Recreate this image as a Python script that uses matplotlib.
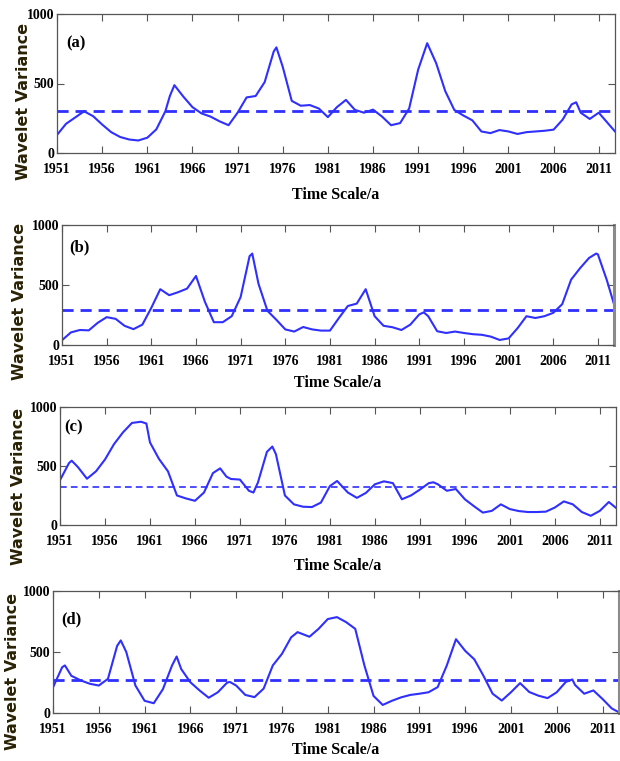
import matplotlib
matplotlib.use('Agg')
import matplotlib.pyplot as plt

# ── data (year, wavelet variance) ──────────────────────────────────────────
YEARS_A = [1951, 1952, 1953, 1954, 1955, 1956, 1957, 1958, 1959, 1960, 1961,
           1962, 1963, 1963.5, 1964, 1965, 1966, 1967, 1968, 1969, 1970, 1971,
           1972, 1973, 1974, 1975, 1975.3, 1976, 1977, 1978, 1979, 1980, 1981,
           1982, 1983, 1984, 1985, 1986, 1987, 1988, 1989, 1990, 1991, 1992,
           1993, 1994, 1995, 1996, 1997, 1998, 1999, 2000, 2001, 2002, 2003,
           2004, 2005, 2006, 2007, 2008, 2008.5, 2009, 2010, 2011, 2012, 2012.8]
VAR_A = [130, 210, 255, 300, 265, 205, 150, 115, 97, 90, 110,
         170, 300, 410, 488, 405, 330, 285, 262, 228, 200, 290,
         400, 410, 510, 730, 760, 620, 375, 340, 345, 320, 258,
         330, 382, 310, 290, 312, 262, 200, 215, 320, 600, 790,
         645, 445, 310, 270, 235, 155, 143, 165, 155, 137, 150,
         155, 160, 168, 240, 350, 365, 290, 245, 290, 215, 155]
MEAN_A = 300

YEARS_B = [1951, 1952, 1953, 1954, 1955, 1956, 1957, 1958, 1959, 1960, 1961,
           1962, 1963, 1964, 1965, 1966, 1967, 1968, 1969, 1970, 1971, 1972,
           1972.3, 1973, 1974, 1975, 1976, 1977, 1978, 1979, 1980, 1981, 1982,
           1983, 1984, 1985, 1986, 1987, 1988, 1989, 1990, 1991, 1991.5, 1992,
           1993, 1994, 1995, 1996, 1997, 1998, 1999, 2000, 2001, 2002, 2003,
           2004, 2005, 2006, 2007, 2008, 2009, 2010, 2010.8, 2011, 2012, 2012.8]
VAR_B = [40, 105, 125, 122, 185, 232, 218, 160, 132, 170, 310,
         465, 415, 440, 470, 575, 360, 190, 190, 240, 400, 740,
         762, 510, 285, 210, 130, 112, 150, 130, 120, 120, 225,
         325, 345, 465, 240, 160, 148, 125, 170, 255, 272, 240,
         115, 100, 112, 100, 90, 85, 70, 42, 55, 140, 240,
         225, 240, 268, 340, 545, 640, 725, 762, 755, 540, 340]
MEAN_B = 295

YEARS_C = [1951, 1952, 1952.3, 1953, 1954, 1955, 1956, 1957, 1958, 1959, 1960,
           1960.6, 1961, 1962, 1963, 1964, 1965, 1966, 1967, 1968, 1968.8,
           1969.5, 1970, 1971, 1972, 1972.5, 1973, 1974, 1974.6, 1975, 1976,
           1977, 1978, 1979, 1980, 1981, 1981.8, 1983, 1984, 1985, 1986, 1987,
           1988, 1989, 1990, 1991, 1992, 1992.5, 1993, 1994, 1995, 1996, 1997,
           1998, 1999, 2000, 2001, 2002, 2003, 2004, 2005, 2006, 2007, 2008,
           2009, 2010, 2011, 2012, 2012.8]
VAR_C = [380, 525, 545, 490, 392, 455, 555, 685, 785, 865, 875,
         860, 700, 560, 455, 250, 225, 205, 275, 440, 480,
         410, 390, 385, 290, 275, 360, 620, 665, 600, 250,
         175, 155, 152, 190, 330, 373, 275, 230, 272, 345, 370,
         355, 218, 250, 300, 355, 362, 345, 290, 305, 218, 160,
         105, 120, 175, 135, 118, 110, 110, 113, 148, 200, 175,
         110, 78, 120, 195, 145]
MEAN_C = 325

YEARS_D = [1951, 1952, 1952.3, 1953, 1954, 1955, 1956, 1957, 1958, 1958.4, 1959,
           1960, 1961, 1962, 1963, 1964, 1964.5, 1965, 1966, 1967, 1968, 1969,
           1970, 1970.3, 1971, 1972, 1973, 1974, 1975, 1976, 1977, 1977.7, 1979,
           1980, 1981, 1982, 1983, 1984, 1985, 1986, 1987, 1988, 1989, 1990,
           1991, 1992, 1993, 1994, 1995, 1996, 1997, 1998, 1999, 2000, 2001,
           2002, 2003, 2004, 2005, 2006, 2007, 2007.7, 2008, 2009, 2010, 2011,
           2012, 2012.8]
VAR_D = [210, 375, 390, 305, 268, 240, 225, 280, 550, 595, 500,
         225, 100, 80, 195, 390, 463, 360, 252, 185, 125, 170,
         248, 255, 225, 148, 130, 200, 390, 485, 620, 663, 625,
         690, 770, 786, 745, 690, 390, 140, 66, 100, 128, 148,
         158, 170, 212, 390, 605, 510, 440, 305, 158, 102, 170,
         245, 172, 142, 122, 170, 255, 275, 230, 158, 185, 115,
         38, 5]
MEAN_D = 270

PANEL_LABELS = ['(a)', '(b)', '(c)', '(d)']
XTICKS = list(range(1951, 2012, 5))
YTICKS = [0, 500, 1000]

# ── layout (pixel boxes from the reference: left, right, top, bottom) ──────
W, H = 620, 761
BOXES = [(57, 615, 14, 153), (62, 614, 225, 345),
         (60, 616, 407, 525), (53, 619, 591, 713)]
YLAB_X = [24, 20, 19, 13]          # label centre, pixels from the left edge
YLAB_Y = [0.37, 0.36, 0.33, 0.34]  # axes fraction
XLAB_Y = [-0.30, -0.32, -0.35, -0.30]
TAG_POS = [(0.034, 0.79), (0.032, 0.81), (0.025, 0.83), (0.032, 0.77)]
DASH_LW = [2.0, 2.0, 1.2, 2.0]

BLUE = '#2f2fff'
SERIF = 'Liberation Serif'

fig = plt.figure(figsize=(W / 100, H / 100), dpi=100)

series = [(YEARS_A, VAR_A, MEAN_A), (YEARS_B, VAR_B, MEAN_B),
          (YEARS_C, VAR_C, MEAN_C), (YEARS_D, VAR_D, MEAN_D)]

for i, (years, var, mean) in enumerate(series):
    l, r, t, b = BOXES[i]
    ax = fig.add_axes([l / W, 1 - b / H, (r - l) / W, (b - t) / H])

    ax.plot(years, var, color=BLUE, lw=1.5)
    ax.axhline(mean, color=BLUE, lw=DASH_LW[i], ls=(0, (4, 2.5)))

    ax.set_xlim(1951, 2012.8)
    ax.set_ylim(0, 1000)
    ax.set_xticks(XTICKS)
    ax.set_yticks(YTICKS)
    ax.tick_params(direction='in', top=True, right=True, length=5,
                   width=0.8, color='#555555')
    ax.tick_params(axis='x', pad=7)
    ax.tick_params(axis='y', pad=2)
    for lab in ax.get_xticklabels() + ax.get_yticklabels():
        lab.set_fontfamily(SERIF)
        lab.set_fontweight('bold')
        lab.set_fontsize(10)
    for sp in ax.spines.values():
        sp.set_color('#555555')
        sp.set_linewidth(0.9)
    if i in (1, 3):
        ax.spines['right'].set_color('#8a8a8a')
        ax.spines['right'].set_linewidth(2.2)

    ax.set_xlabel('Time Scale/a', fontfamily=SERIF, fontweight='bold',
                  fontsize=11.5, va='center')
    ax.xaxis.set_label_coords(0.5, XLAB_Y[i])
    ax.set_ylabel('Wavelet Variance', fontfamily='DejaVu Sans',
                  fontweight='bold', fontsize=11.5, color='#2a2205',
                  va='center')
    ax.yaxis.set_label_coords((YLAB_X[i] - l) / (r - l), YLAB_Y[i])

    ax.text(TAG_POS[i][0], TAG_POS[i][1], PANEL_LABELS[i],
            transform=ax.transAxes, fontfamily=SERIF, fontweight='bold',
            fontsize=12, ha='center', va='center')

plt.savefig('out.png', dpi=100)
